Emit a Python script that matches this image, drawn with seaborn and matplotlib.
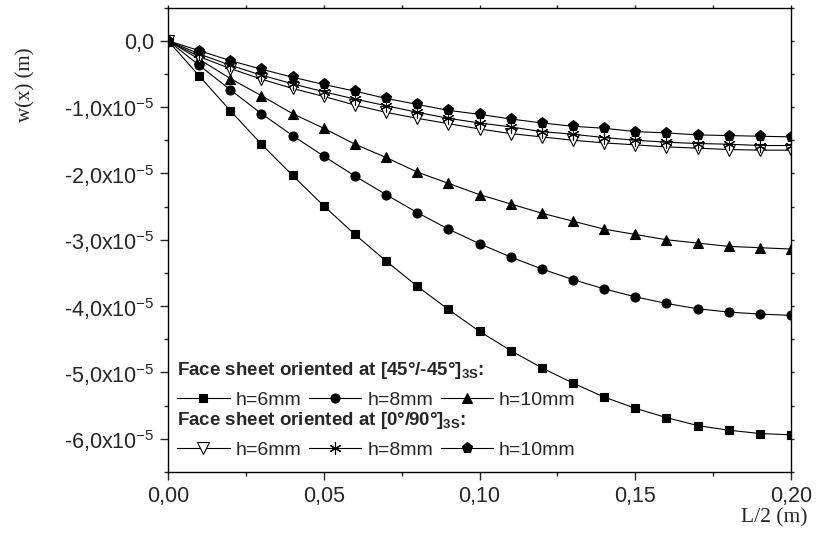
import numpy as np
import matplotlib
matplotlib.use('Agg')
import matplotlib.pyplot as plt
import seaborn as sns
from matplotlib.ticker import MultipleLocator, FuncFormatter

# positions along half span (m)
x_pos = [0.00, 0.01, 0.02, 0.03, 0.04, 0.05, 0.06, 0.07, 0.08, 0.09, 0.10,
         0.11, 0.12, 0.13, 0.14, 0.15, 0.16, 0.17, 0.18, 0.19, 0.20]

# deflection w(x) in units of 1e-5 m
# face sheet [45/-45]3S
w45_h6 = [0, -0.53, -1.055, -1.56, -2.03, -2.49, -2.92, -3.32, -3.70, -4.05, -4.38,
          -4.67, -4.93, -5.16, -5.37, -5.54, -5.68, -5.80, -5.87, -5.92, -5.94]
w45_h8 = [0, -0.37, -0.74, -1.10, -1.43, -1.74, -2.04, -2.32, -2.59, -2.84, -3.06,
          -3.26, -3.44, -3.60, -3.74, -3.86, -3.96, -4.04, -4.09, -4.12, -4.14]
w45_h10 = [0, -0.28, -0.57, -0.83, -1.10, -1.32, -1.56, -1.76, -1.98, -2.15, -2.32,
           -2.46, -2.60, -2.72, -2.84, -2.92, -3.00, -3.05, -3.10, -3.12, -3.14]
# face sheet [0/90]3S
w090_h6 = [0, -0.24, -0.42, -0.58, -0.72, -0.84, -0.97, -1.08, -1.17, -1.25, -1.33,
           -1.40, -1.45, -1.50, -1.54, -1.57, -1.60, -1.62, -1.64, -1.65, -1.65]
w090_h8 = [0, -0.20, -0.37, -0.52, -0.65, -0.77, -0.88, -0.98, -1.08, -1.17, -1.24,
           -1.30, -1.37, -1.41, -1.46, -1.50, -1.53, -1.55, -1.56, -1.58, -1.58]
w090_h10 = [0, -0.15, -0.30, -0.43, -0.55, -0.66, -0.76, -0.87, -0.96, -1.05, -1.11,
            -1.18, -1.24, -1.29, -1.32, -1.37, -1.39, -1.42, -1.43, -1.44, -1.45]

labels = ['h=6mm', 'h=8mm', 'h=10mm']
title45 = 'Face sheet oriented at [45°/-45°]$_{\\mathbf{3S}}$:'
title090 = 'Face sheet oriented at [0°/90°]$_{\\mathbf{3S}}$:'

sns.set_style('ticks')
plt.rcParams['font.family'] = ['Liberation Sans', 'DejaVu Sans']
plt.rcParams['mathtext.fontset'] = 'custom'
plt.rcParams['mathtext.rm'] = 'Liberation Sans'
plt.rcParams['mathtext.it'] = 'Liberation Sans:italic'
plt.rcParams['mathtext.bf'] = 'Liberation Sans:bold'

fig = plt.figure(figsize=(8.18, 5.41), dpi=100)
ax = fig.add_axes([168 / 818, 1 - 472 / 541, 623 / 818, 464.5 / 541])

x = np.array(x_pos)
series = [
    (w45_h6, dict(marker='s', markersize=6, markerfacecolor='black')),
    (w45_h8, dict(marker='o', markersize=6.5, markerfacecolor='black')),
    (w45_h10, dict(marker='^', markersize=7.5, markerfacecolor='black')),
    (w090_h6, dict(marker='v', markersize=8, markerfacecolor='white')),
    (w090_h8, dict(marker=(6, 2, 0), markersize=9, markerfacecolor='black')),
    (w090_h10, dict(marker='p', markersize=8, markerfacecolor='black')),
]
handles = []
for vals, kw in series:
    sns.lineplot(x=x, y=np.array(vals) * 1e-5, ax=ax, color='black',
                 linewidth=0.8, markeredgecolor='black', markeredgewidth=0.8, **kw)
    handles.append(ax.lines[-1])

ax.set_xlim(0, 0.20)
ax.set_ylim(-6.5e-5, 0.5e-5)
ax.xaxis.set_major_locator(MultipleLocator(0.05))
ax.xaxis.set_minor_locator(MultipleLocator(0.025))
ax.yaxis.set_major_locator(MultipleLocator(1e-5))
ax.yaxis.set_minor_locator(MultipleLocator(0.5e-5))


def fmt_y(v, pos):
    m = v / 1e-5
    if abs(m) < 1e-9:
        return '0,0'
    return f'{m:.1f}'.replace('.', ',') + 'x10$^{-5}$'


ax.yaxis.set_major_formatter(FuncFormatter(fmt_y))
ax.xaxis.set_major_formatter(FuncFormatter(lambda v, p: f'{v:.2f}'.replace('.', ',')))

for s in ax.spines.values():
    s.set_linewidth(1.0)
    s.set_color('black')
ax.tick_params(which='major', direction='out', length=6, width=1, labelsize=15.5, pad=4)
ax.tick_params(which='minor', direction='out', length=3, width=1)
ax.tick_params(which='both', top=True, right=True, labeltop=False, labelright=False)
# tiny ticks on top/right
for t in ax.xaxis.get_major_ticks() + ax.xaxis.get_minor_ticks():
    t.tick2line.set_markersize(2)
for t in ax.yaxis.get_major_ticks() + ax.yaxis.get_minor_ticks():
    t.tick2line.set_markersize(2)

ax.set_ylabel('w(x) (m)', family='Liberation Serif', fontsize=15)
ax.yaxis.set_label_coords(-0.212, 0.833)
ax.set_xlabel('L/2 (m)', family='Liberation Serif', fontsize=15.5)
ax.xaxis.label.set_ha('right')
ax.xaxis.set_label_coords(1.027, -0.078)

leg_kw = dict(ncol=3, loc='lower left', frameon=False, alignment='left',
              borderpad=0, borderaxespad=0, handlelength=2.7, handletextpad=0.3,
              columnspacing=0.4, fontsize=14,
              title_fontproperties={'weight': 'bold', 'size': 13.5})
leg1 = ax.legend(handles=handles[:3], labels=labels, title=title45,
                 bbox_to_anchor=(0.0145, 0.136), **leg_kw)
ax.add_artist(leg1)
leg2 = ax.legend(handles=handles[3:], labels=labels, title=title090,
                 bbox_to_anchor=(0.0145, 0.029), **leg_kw)

fig.savefig('out.png', dpi=100)
